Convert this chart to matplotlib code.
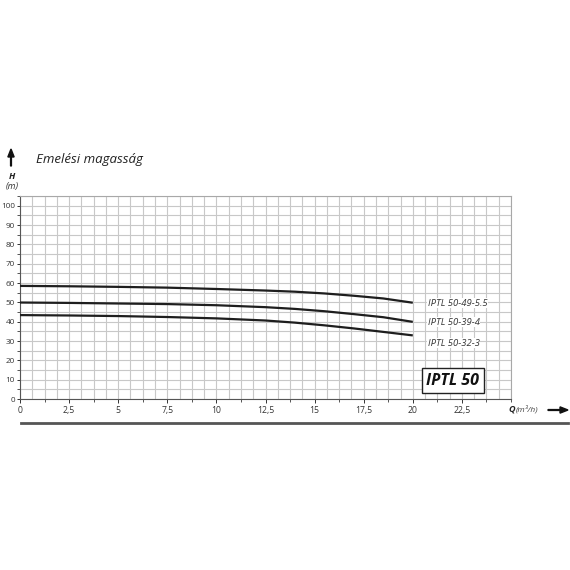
import matplotlib
matplotlib.use("Agg")
import matplotlib.pyplot as plt
import numpy as np
from matplotlib.ticker import MultipleLocator

q = [0, 2.5, 5, 7.5, 10, 12.5, 14, 15.5, 17, 18.5, 20]
h_50_49 = [58.5, 58.3, 58.0, 57.6, 56.9, 56.1, 55.5, 54.6, 53.4, 52.0, 49.8]
h_50_39 = [49.9, 49.7, 49.4, 49.1, 48.5, 47.5, 46.6, 45.4, 43.9, 42.3, 39.9]
h_50_32 = [43.4, 43.2, 42.9, 42.4, 41.7, 40.6, 39.5, 38.1, 36.5, 34.7, 32.9]
series_names = ["IPTL 50-49-5.5", "IPTL 50-39-4", "IPTL 50-32-3"]
label_h = [49.5, 39.7, 28.9]
x_ticks = [0, 2.5, 5, 7.5, 10, 12.5, 15, 17.5, 20, 22.5]
x_tick_labels = ["0", "2,5", "5", "7,5", "10", "12,5", "15", "17,5", "20", "22,5"]
y_ticks = [0, 10, 20, 30, 40, 50, 60, 70, 80, 90, 100]

plt.rcParams['font.family'] = ['Open Sans', 'DejaVu Sans']

fig = plt.figure(figsize=(5.7, 5.7), dpi=100)
ax = fig.add_axes([20/570, 1-399/570, (511-20)/570, (399-196)/570])
ax.set_xlim(0, 25)
ax.set_ylim(0, 105)

grid_c = "#c8c8c8"
ax.set_xticks(x_ticks)
ax.set_xticklabels(x_tick_labels)
ax.set_yticks(y_ticks)
ax.xaxis.set_minor_locator(MultipleLocator(1.25))
ax.yaxis.set_minor_locator(MultipleLocator(5))

for s in ['top', 'right']:
    ax.spines[s].set_color("#a8a8a8")
    ax.spines[s].set_linewidth(0.8)
for s in ['left', 'bottom']:
    ax.spines[s].set_color("#555555")
    ax.spines[s].set_linewidth(0.8)

ax.tick_params(axis='x', which='major', labelsize=6.2, colors="#333333",
               length=3, width=0.7, pad=2)
ax.tick_params(axis='y', which='major', labelsize=5.9, colors="#333333",
               length=2.5, width=0.7, pad=1.2)
ax.tick_params(axis='both', which='minor', length=2.5, width=0.7, color="#555555")

gx = np.arange(0, 25.001, 0.625)
gy = np.arange(0, 105.001, 5)
ax.vlines(gx, 0, 105, colors=grid_c, linewidth=0.8, zorder=0)
ax.hlines(gy, 0, 25, colors=grid_c, linewidth=0.8, zorder=0)

for h, name, lh in zip([h_50_49, h_50_39, h_50_32], series_names, label_h):
    ax.plot(q, h, color="#1e1e1e", linewidth=1.6, zorder=3,
            solid_joinstyle='round', solid_capstyle='butt')
    ax.text(q[-1] + 0.75, lh, name, fontsize=6.8, style='italic',
            color="#333333", va='center', ha='left',
            bbox=dict(facecolor='white', edgecolor='none', pad=0.5))

ax.text(22.04, 9.5, "IPTL 50", fontsize=11.5, style='italic', weight='bold',
        color="#111111", va='center', ha='center',
        bbox=dict(facecolor='white', edgecolor='#222222', linewidth=1.0,
                  boxstyle='square,pad=0.3'))

# header texts
fig.text(36/570, 1-159/570, "Emelési magasság", fontsize=9.5, style='italic',
         color="#222222", va='center', ha='left')
fig.text(12/570, 1-176/570, "H", fontsize=6.5, style='italic', weight='bold',
         color="#222222", va='center', ha='center')
fig.text(12/570, 1-186/570, "(m)", fontsize=6.5, style='italic',
         color="#333333", va='center', ha='center')
fig.text(508/570, 1-409/570, "Q", fontsize=6.5, style='italic', weight='bold',
         color="#222222", va='center', ha='left')
fig.text(516/570, 1-409/570, "(m³/h)", fontsize=6, style='italic',
         color="#444444", va='center', ha='left')

# arrows
fig.patches.append(matplotlib.patches.FancyArrow(
    11/570, 1-166/570, 0, 17/570, width=0.0015, head_width=0.011,
    head_length=0.014, length_includes_head=True, color="#111111",
    transform=fig.transFigure, figure=fig))
fig.patches.append(matplotlib.patches.FancyArrow(
    548/570, 1-410/570, 20/570, 0, width=0.0015, head_width=0.011,
    head_length=0.014, length_includes_head=True, color="#111111",
    transform=fig.transFigure, figure=fig))
# bottom rule
fig.add_artist(matplotlib.lines.Line2D([21/570, 568/570], [1-423/570, 1-423/570],
                                       color="#555555", linewidth=2.0,
                                       transform=fig.transFigure))

fig.savefig("out.png", dpi=100, facecolor='white')
